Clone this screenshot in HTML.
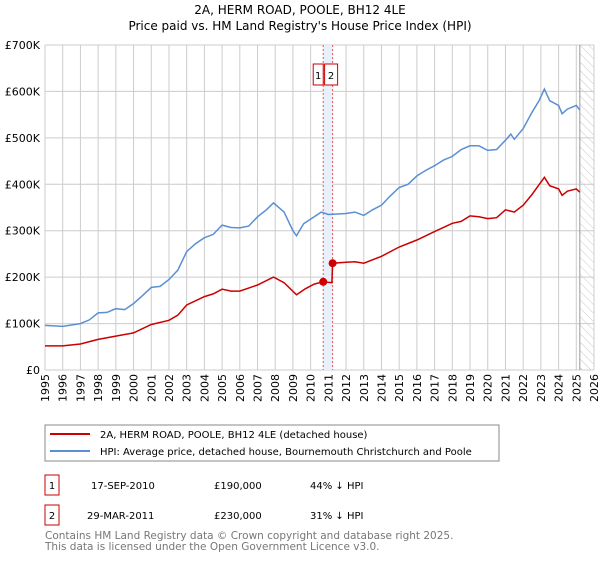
<!DOCTYPE html>
<html><head><meta charset="utf-8"><style>
body{margin:0;background:#fff;font-family:"DejaVu Sans","Liberation Sans",sans-serif;}
svg text{font-family:"DejaVu Sans","Liberation Sans",sans-serif;}
</style></head><body>
<svg id="chart" width="600" height="560" viewBox="0 0 600 560">
<defs><pattern id="hatch" width="6" height="6" patternUnits="userSpaceOnUse" patternTransform="rotate(-45)"><line x1="0" y1="0" x2="0" y2="6" stroke="#bbb" stroke-width="0.8"/></pattern></defs>
<text x="300" y="14" text-anchor="middle" font-size="12" fill="#000">2A, HERM ROAD, POOLE, BH12 4LE</text>
<text x="300" y="30" text-anchor="middle" font-size="12" fill="#000">Price paid vs. HM Land Registry's House Price Index (HPI)</text>
<g id="grid"></g><g id="marks"></g>
<rect x="45" y="425" width="454" height="36" fill="#fff" stroke="#888"/>
<line x1="50" y1="434" x2="90" y2="434" stroke="#cc0000" stroke-width="2"/>
<text x="100" y="438" font-size="10">2A, HERM ROAD, POOLE, BH12 4LE (detached house)</text>
<line x1="50" y1="451" x2="90" y2="451" stroke="#5b8fd4" stroke-width="2"/>
<text x="100" y="455" font-size="10">HPI: Average price, detached house, Bournemouth Christchurch and Poole</text>
<g>
<rect x="45" y="475" width="14" height="20" fill="none" stroke="#cc0000"/><text x="52" y="489" font-size="10" text-anchor="middle">1</text>
<text x="91" y="489" font-size="10">17-SEP-2010</text><text x="214" y="489" font-size="10">£190,000</text><text x="310" y="489" font-size="10">44% ↓ HPI</text></g>
<g>
<rect x="45" y="505" width="14" height="20" fill="none" stroke="#cc0000"/><text x="52" y="519" font-size="10" text-anchor="middle">2</text>
<text x="87" y="519" font-size="10">29-MAR-2011</text><text x="214" y="519" font-size="10">£230,000</text><text x="310" y="519" font-size="10">31% ↓ HPI</text></g>
<text x="45" y="539" font-size="10.5" fill="#777">Contains HM Land Registry data © Crown copyright and database right 2025.</text>
<text x="45" y="550" font-size="10.5" fill="#777">This data is licensed under the Open Government Licence v3.0.</text>
</svg>
<script>
const yearTicks=[1995,1996,1997,1998,1999,2000,2001,2002,2003,2004,2005,2006,2007,2008,2009,2010,2011,2012,2013,2014,2015,2016,2017,2018,2019,2020,2021,2022,2023,2024,2025,2026];
const valueTicks=[0,100,200,300,400,500,600,700];
const valueTickLabels=["£0","£100K","£200K","£300K","£400K","£500K","£600K","£700K"];
const hpiYears=[1995,1996,1997,1997.5,1998,1998.5,1999,1999.5,2000,2000.5,2001,2001.5,2002,2002.5,2003,2003.5,2004,2004.5,2005,2005.5,2006,2006.5,2007,2007.5,2007.9,2008.5,2009,2009.2,2009.6,2010,2010.6,2011,2012,2012.5,2013,2013.5,2014,2014.5,2015,2015.5,2016,2016.5,2017,2017.5,2018,2018.5,2019,2019.5,2020,2020.5,2021,2021.3,2021.5,2022,2022.5,2022.9,2023.2,2023.5,2024,2024.2,2024.5,2025,2025.2];
const hpiValues=[96,94,100,108,123,124,132,130,143,160,178,180,195,215,255,272,285,292,312,307,306,310,330,345,360,340,300,289,315,325,340,335,337,340,333,345,355,375,393,400,418,430,440,452,460,475,483,483,473,475,495,508,497,520,555,580,605,580,570,552,562,570,560];
const propYears=[1995,1996,1997,1998,1999,2000,2001,2002,2002.5,2003,2004,2004.5,2005,2005.5,2006,2007,2007.9,2008.5,2009.2,2009.7,2010.2,2010.71,2011.2,2011.24,2012,2012.5,2013,2014,2015,2016,2017,2018,2018.5,2019,2019.5,2020,2020.5,2021,2021.5,2022,2022.5,2023.2,2023.5,2024,2024.2,2024.5,2025,2025.2];
const propValues=[52,52,56,66,73,80,98,107,118,140,158,164,174,170,170,183,200,188,162,175,185,190,188,230,232,233,230,245,265,280,298,316,320,332,330,326,328,345,340,355,378,415,397,390,376,385,390,383];
const saleYears=[2010.71,2011.24];
const saleValues=[190,230];
const saleLabels=["1","2"];
const X0=45,X1=594,Y0=370,Y1=45;
const xs=y=>X0+(y-1995)/(2026-1995)*(X1-X0);
const ys=v=>Y0-v/700*(Y0-Y1);
const NS="http://www.w3.org/2000/svg";
const grid=document.getElementById('grid'),marks=document.getElementById('marks');
function mk(tag,attrs,parent){const e=document.createElementNS(NS,tag);for(const k in attrs)e.setAttribute(k,attrs[k]);parent.appendChild(e);return e;}
mk('rect',{x:xs(2025.2),y:Y1,width:X1-xs(2025.2),height:Y0-Y1,fill:'url(#hatch)'},grid);
yearTicks.forEach(t=>{
 const l=mk('line',{x1:xs(t),x2:xs(t),y1:Y1,y2:Y0,stroke:'#ccc'},grid);
 
 
 const px=xs(t)+4,py=402;
 const tx=mk('text',{x:px,y:py,'font-size':11,'text-anchor':'start',transform:'rotate(-90 '+px+' '+py+')'},grid);
 tx.textContent=t;
 
 
});
valueTicks.forEach((v,i)=>{
 const l=mk('line',{x1:X0,x2:X1,y1:ys(v),y2:ys(v),stroke:'#ccc'},grid);
 
 
 const tx=mk('text',{x:40,y:ys(v)+4,'font-size':11,'text-anchor':'end'},grid);
 tx.textContent=valueTickLabels[i];
 
 
});
mk('line',{x1:xs(2025.2),x2:xs(2025.2),y1:Y1,y2:Y0,stroke:'#999','stroke-width':1},grid);
const band=mk('rect',{x:xs(saleYears[0]),y:Y1,width:xs(saleYears[1])-xs(saleYears[0]),height:Y0-Y1,fill:'#e8f0fb'},marks);


saleYears.forEach((s,i)=>{
 const l=mk('line',{x1:xs(s),x2:xs(s),y1:Y1,y2:Y0,stroke:'#e55','stroke-dasharray':'2,2'},marks);
 
 
});
function path(xa,va,color,name){
 const d=xa.map((x,i)=>(i?'L':'M')+xs(x).toFixed(1)+','+ys(va[i]).toFixed(1)).join('');
 const p=mk('path',{d:d,fill:'none',stroke:color,'stroke-width':1.5},marks);
 
 
}
path(hpiYears,hpiValues,'#5b8fd4','hpi-line');
path(propYears,propValues,'#cc0000','property-line');
saleYears.forEach((s,i)=>{
 const c=mk('circle',{cx:xs(s),cy:ys(saleValues[i]),r:4,fill:'#cc0000'},marks);
 
 
 const bx=i===0?xs(s)-10:xs(s)-8;
 const r=mk('rect',{x:bx,y:64,width:i===0?10:13,height:21,fill:'#fff',stroke:'#cc0000'},marks);
 
 
 const t=mk('text',{x:bx+(i===0?5:6.5),y:79,'font-size':10,'text-anchor':'middle'},marks);
 t.textContent=saleLabels[i];
 
 
});
</script>
</body></html>
